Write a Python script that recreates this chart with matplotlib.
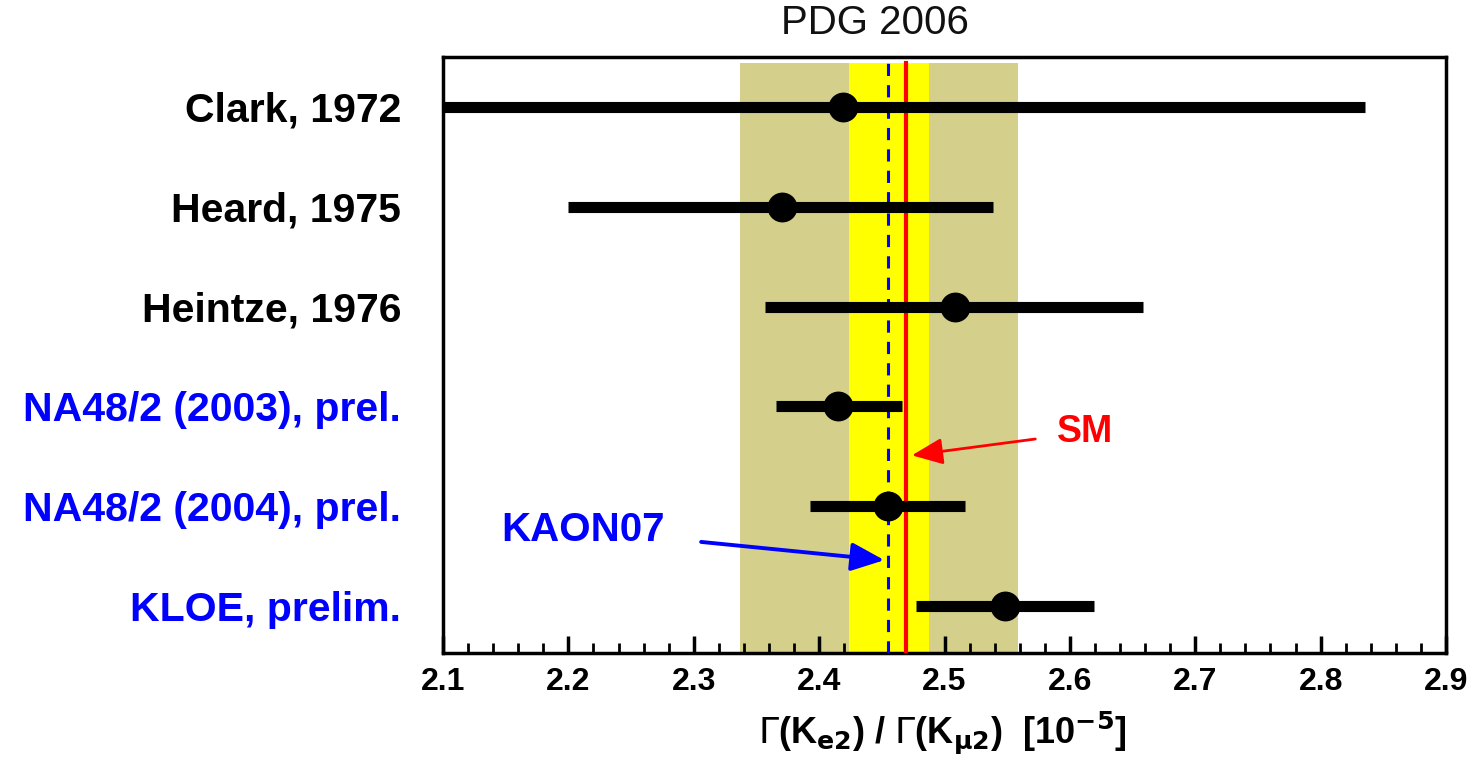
import matplotlib
matplotlib.use("Agg")
import matplotlib.pyplot as plt
from matplotlib.ticker import MultipleLocator

labels = ["Clark, 1972", "Heard, 1975", "Heintze, 1976",
          "NA48/2 (2003), prel.", "NA48/2 (2004), prel.", "KLOE, prelim."]
label_colors = ["black", "black", "black", "#0000ff", "#0000ff", "#0000ff"]
values = [2.419, 2.370, 2.508, 2.415, 2.455, 2.548]
low = [2.100, 2.200, 2.357, 2.366, 2.393, 2.477]
high = [2.835, 2.539, 2.658, 2.466, 2.516, 2.619]

pdg_outer = (2.337, 2.559)
pdg_inner = (2.424, 2.488)
kaon07 = 2.455
sm = 2.469

plt.rcParams['font.family'] = ['Liberation Sans', 'DejaVu Sans']
narrow = ['Liberation Sans Narrow', 'Liberation Sans']

fig = plt.figure(figsize=(14.7, 7.58), dpi=100)
ax = fig.add_axes([443/1470, 105/758, 1003/1470, 596/758])

ypos = list(range(len(labels), 0, -1))

ax.axvspan(*pdg_outer, ymin=0, ymax=0.99, color='#d4d08c', lw=0, zorder=1)
ax.axvspan(*pdg_inner, ymin=0, ymax=0.99, color='#ffff00', lw=0, zorder=2)
ax.axvline(kaon07, ymax=0.99, color='#0000ff', lw=2.2, ls=(0, (4, 3)), zorder=3)
ax.axvline(sm, ymax=0.99, color='#ff0000', lw=3, zorder=3)

ax.hlines(ypos, low, high, color='black', lw=8, zorder=4)
ax.plot(values, ypos, 'o', color='black', ms=20.5, zorder=5)

ax.annotate("SM", xy=(2.474, 2.51), xytext=(2.590, 2.74),
            color='#ff0000', fontsize=27, fontweight='bold', va='center', ha='left',
            arrowprops=dict(arrowstyle='-|>,head_length=0.7,head_width=0.3',
                            color='#ff0000', lw=2, shrinkA=14, shrinkB=0),
            zorder=6)
ax.annotate("KAON07", xy=(2.452, 1.46), xytext=(2.212, 1.76),
            color='#0000ff', fontsize=29, fontweight='bold', va='center', ha='center',
            arrowprops=dict(arrowstyle='-|>,head_length=0.7,head_width=0.3',
                            color='#0000ff', lw=2.8, shrinkA=24, shrinkB=0),
            zorder=6)

ax.set_xlim(2.1, 2.9)
ax.set_ylim(0.53, 6.5)
ax.xaxis.set_major_locator(MultipleLocator(0.1))
ax.xaxis.set_minor_locator(MultipleLocator(0.02))
ax.tick_params(axis='x', which='major', direction='in', length=12, width=2.5,
               labelsize=23, pad=10)
ax.tick_params(axis='x', which='minor', direction='in', length=7, width=2)
for t in ax.get_xticklabels():
    t.set_fontweight('bold')
    t.set_family(narrow)

ax.set_yticks(ypos)
ax.set_yticklabels(labels, fontsize=29.5, fontweight='bold')
ax.tick_params(axis='y', length=0, pad=30)
for t, c in zip(ax.get_yticklabels(), label_colors):
    t.set_color(c)

for s in ax.spines.values():
    s.set_linewidth(2.5)

fig.text(875/1470, 1 - 23/758, "PDG 2006", fontsize=29, ha='center', va='center',
         color='#111111')
fig.text(942/1470, 1 - 733/758,
         r"$\Gamma$(K$_{\mathbf{e2}}$) / $\Gamma$(K$_{\mathbf{\mu 2}}$)  [10$^{\mathbf{-5}}$]",
         fontsize=26, fontweight='bold', ha='center', va='center', family=narrow)

fig.savefig("out.png", dpi=100)
